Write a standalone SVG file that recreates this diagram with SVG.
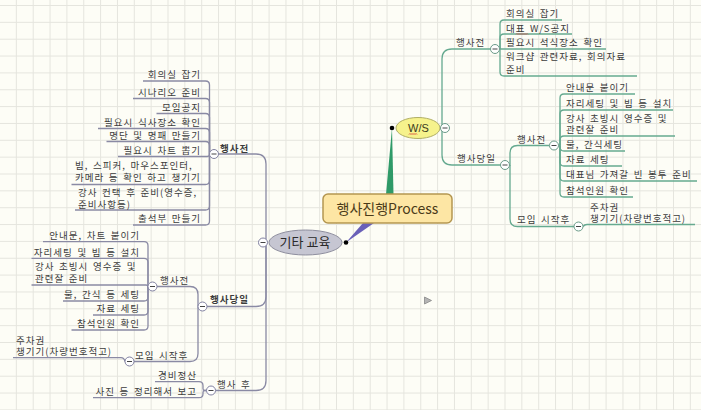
<svg xmlns="http://www.w3.org/2000/svg" width="701" height="410" viewBox="0 0 701 410">
<defs>
<pattern id="grid" x="-1" y="5" width="16.85" height="16.85" patternUnits="userSpaceOnUse">
<path d="M0.5 0V16.85M0 0.5H16.85" stroke="#e5e5de" stroke-width="1" fill="none"/>
</pattern>
<style>
.t{font-family:"Noto Sans CJK KR","Noto Sans",sans-serif;font-size:9.5px;fill:#3c3c3c;letter-spacing:1px;word-spacing:1.5px}
.e{text-anchor:end}
.b{font-weight:bold}
.gl{fill:none;stroke:#66aa90;stroke-width:1.3}
.pl{fill:none;stroke:#8a8aa4;stroke-width:1.3}
.cg{fill:#fff;stroke:#6a9a88;stroke-width:1}
.cp{fill:#fff;stroke:#8080a0;stroke-width:1}
.m{stroke:#444;stroke-width:1}
</style>
</defs>
<rect width="701" height="410" fill="#fdfdf6"/>
<rect width="701" height="410" fill="url(#grid)"/>

<g id="connectors">
<polygon points="392,128 386,194.5 393.5,194.5" fill="#2f9a68"/>
<polygon points="346,242.5 363,223 374,223" fill="#6a60b8"/>
<g class="gl">
<path d="M442,128V59Q442,49 452,49H490.5"/>
<path d="M442,128V155Q442,165 452,165H500.5"/>
<path d="M500,49V24Q500,20 504,20H562"/>
<path d="M500,49V38Q500,34 504,34H572"/>
<path d="M499.5,49H606"/>
<path d="M500,49V72Q500,76 504,76H637"/>
<path d="M509.5,165H510V153Q510,145.5 517.5,145.5H549.5"/>
<path d="M510,165V219Q510,226.5 517.5,226.5H574"/>
<path d="M558.5,145.5H560"/>
<path d="M560,145.5V98Q560,94 564,94H635"/>
<path d="M560,145.5V114Q560,110 564,110H673"/>
<path d="M560,145.5V140Q560,136 564,136H675"/>
<path d="M560,145.5V147Q560,151 564,151H625"/>
<path d="M560,145.5V162Q560,166 564,166H622"/>
<path d="M560,145.5V177Q560,181 564,181H697"/>
<path d="M560,145.5V193Q560,197 564,197H633"/>
<path d="M583,226.5Q584.5,224.5 587,224.5H695"/>
</g>
<g class="pl">
<path d="M266,242.5V164Q266,154 256,154H218.5"/>
<path d="M266,242.5V296.5Q266,306.5 256,306.5H207"/>
<path d="M266,242.5V380.5Q266,390.5 256,390.5H215.5"/>
<path d="M209.5,154V85Q209.5,81 205.5,81H143"/>
<path d="M209.5,154V102.5Q209.5,98.5 205.5,98.5H133"/>
<path d="M209.5,154V117.5Q209.5,113.5 205.5,113.5H156.5"/>
<path d="M209.5,154V132.5Q209.5,128.5 205.5,128.5H98"/>
<path d="M209.5,154V145.5Q209.5,141.5 205.5,141.5H106.5"/>
<path d="M209.5,154Q209.5,156.5 207,156.5H118"/>
<path d="M209.5,154V180.5Q209.5,184.5 205.5,184.5H71.5"/>
<path d="M209.5,154V206Q209.5,210 205.5,210H75"/>
<path d="M209.5,154V221Q209.5,225 205.5,225H133"/>
<path d="M198,306.5V294.5Q198,286.5 190,286.5H157"/>
<path d="M198,306.5V353.5Q198,361.5 190,361.5H134"/>
<path d="M148,286.5V245.7Q148,241.7 144,241.7H43"/>
<path d="M148,286.5V262.3Q148,258.3 144,258.3H31.5"/>
<path d="M148,286.5Q148,285 146,285H31.5"/>
<path d="M148,286.5V297Q148,301 144,301H63"/>
<path d="M148,286.5V311Q148,315 144,315H93"/>
<path d="M148,286.5V326Q148,330 144,330H71.5"/>
<path d="M125,361.5Q124,357.7 121,357.7H13"/>
<path d="M206.5,390.5H204.5Q203,390.5 203,388.5V385.7Q203,381.7 199,381.7H155"/>
<path d="M206.5,390.5H204.5Q203,390.5 203,392.5V393.7Q203,397.7 199,397.7H93"/>
</g>
</g>

<g id="center">
<rect x="323" y="194" width="129" height="29" rx="5" fill="#fde6a4" stroke="#b49650" stroke-width="1.5"/>
<text x="387.5" y="213.5" text-anchor="middle" font-family="'Noto Sans CJK KR','Noto Sans',sans-serif" font-size="14" fill="#4a3a18">행사진행Process</text>
</g>

<g id="ws">
<ellipse cx="418" cy="128" rx="22" ry="10.5" fill="#f6f28c" stroke="#b0ae66" stroke-width="1"/>
<text x="418.5" y="132" text-anchor="middle" font-family="'Liberation Sans',sans-serif" font-size="11" fill="#3a3a20">W/S</text>
<path d="M409,134.5l1,-1l1,1l1,-1l1,1l1,-1l1,1l1,-1l1,1" fill="none" stroke="#d03030" stroke-width="0.8"/>
<circle cx="392" cy="128" r="2.3" fill="#000"/>
<circle class="cg" cx="445" cy="128" r="4.5"/><path class="m" d="M442.5,128H447.5"/>
</g>

<g id="etc">
<ellipse cx="305.5" cy="242.5" rx="36.5" ry="12.5" fill="#c6c6d2" stroke="#8e8e9e" stroke-width="1"/>
<text x="305" y="247" text-anchor="middle" font-family="'Noto Sans CJK KR','Noto Sans',sans-serif" font-size="13" fill="#2a2a2a">기타 교육</text>
<circle cx="346" cy="242.5" r="2.3" fill="#000"/>
<circle class="cp" cx="263" cy="242.5" r="4.5"/><path class="m" d="M260.5,242.5H265.5"/>
</g>

<g id="r-before">
<text class="t" x="456" y="46">행사전</text>
<circle class="cg" cx="495" cy="49" r="4.5"/><path class="m" d="M492.5,49H497.5"/>
<text class="t" x="506" y="17">회의실 잡기</text>
<text class="t" x="506" y="31.5">대표 W/S공지</text>
<path d="M516,34.5l1,-1l1,1l1,-1l1,1l1,-1l1,1l1,-1l1,1l1,-1l1,1l1,-1l1,1" fill="none" stroke="#d03030" stroke-width="0.7"/>
<text class="t" x="506" y="46">필요시 석식장소 확인</text>
<text class="t" x="506" y="60">워크샵 관련자료, 회의자료</text>
<text class="t" x="506" y="72.5">준비</text>
</g>

<g id="r-day">
<text class="t" x="457" y="162">행사당일</text>
<circle class="cg" cx="505" cy="165" r="4.5"/><path class="m" d="M502.5,165H507.5"/>
</g>

<g id="r-day-before">
<text class="t" x="517" y="142.5">행사전</text>
<circle class="cg" cx="554" cy="145.5" r="4.5"/><path class="m" d="M551.5,145.5H556.5"/>
<text class="t" x="566" y="91">안내문 붙이기</text>
<text class="t" x="566" y="107">자리세팅 및 빔 등 설치</text>
<text class="t" x="566" y="121.5">강사 초빙시 영수증 및</text>
<text class="t" x="566" y="133">관련잘 준비</text>
<text class="t" x="566" y="148">물, 간식세팅</text>
<text class="t" x="566" y="163">자료 세팅</text>
<text class="t" x="566" y="178">대표님 가져갈 빈 봉투 준비</text>
<text class="t" x="566" y="194">참석인원 확인</text>
</g>

<g id="r-day-start">
<text class="t" x="517" y="223">모임 시작후</text>
<circle class="cg" cx="578.5" cy="226.5" r="4.5"/><path class="m" d="M576,226.5H581"/>
<text class="t" x="590" y="210.5">주차권</text>
<text class="t" x="590" y="222">챙기기(차량번호적고)</text>
</g>

<g id="l-before">
<text class="t b" x="220" y="151.5">행사전</text>
<circle class="cp" cx="214" cy="154" r="4.5"/><path class="m" d="M211.5,154H216.5"/>
<text class="t e" x="201" y="78">회의실 잡기</text>
<text class="t e" x="201" y="95.5">시나리오 준비</text>
<text class="t e" x="201" y="110.5">모임공지</text>
<text class="t e" x="201" y="125.5">필요시 식사장소 확인</text>
<text class="t e" x="201" y="138.5">명단 및 명패 만들기</text>
<text class="t e" x="201" y="153.5">필요시 차트 뽑기</text>
<text class="t" x="75" y="168.5">빔, 스피커, 마우스포인터,</text>
<text class="t" x="75" y="181">카메라 등 확인 하고 챙기기</text>
<text class="t" x="78" y="196">강사 컨택 후 준비(영수증,</text>
<text class="t" x="78" y="208">준비사항등)</text>
<text class="t e" x="201" y="222">출석부 만들기</text>
</g>

<g id="l-day">
<text class="t b" x="210" y="303">행사당일</text>
<circle class="cp" cx="202.5" cy="306.5" r="4.5"/><path class="m" d="M200,306.5H205"/>
</g>

<g id="l-day-before">
<text class="t" x="160" y="284">행사전</text>
<circle class="cp" cx="152.5" cy="286.5" r="4.5"/><path class="m" d="M150,286.5H155"/>
<text class="t e" x="140" y="239">안내문, 차트 붙이기</text>
<text class="t e" x="140" y="255.5">자리세팅 및 빔 등 설치</text>
<text class="t" x="35" y="270">강사 초빙시 영수증 및</text>
<text class="t" x="35" y="281.5">관련잘 준비</text>
<text class="t e" x="140" y="298">물, 간식 등 세팅</text>
<text class="t e" x="140" y="312">자료 세팅</text>
<text class="t e" x="140" y="327">참석인원 확인</text>
</g>

<g id="l-day-start">
<text class="t" x="135" y="358.5">모임 시작후</text>
<circle class="cp" cx="129.5" cy="361.5" r="4.5"/><path class="m" d="M127,361.5H132"/>
<text class="t" x="16" y="343.5">주차권</text>
<text class="t" x="16" y="355">챙기기(차량번호적고)</text>
</g>

<g id="l-after">
<text class="t" x="217" y="387.5">행사 후</text>
<circle class="cp" cx="211" cy="390.5" r="4.5"/><path class="m" d="M208.5,390.5H213.5"/>
<text class="t e" x="197" y="379">경비정산</text>
<text class="t e" x="197" y="395">사진 등 정리해서 보고</text>
</g>

<polygon points="424.5,297 431.5,300.5 424.5,304" fill="#b4b4b4" stroke="#888" stroke-width="0.8"/>
</svg>
